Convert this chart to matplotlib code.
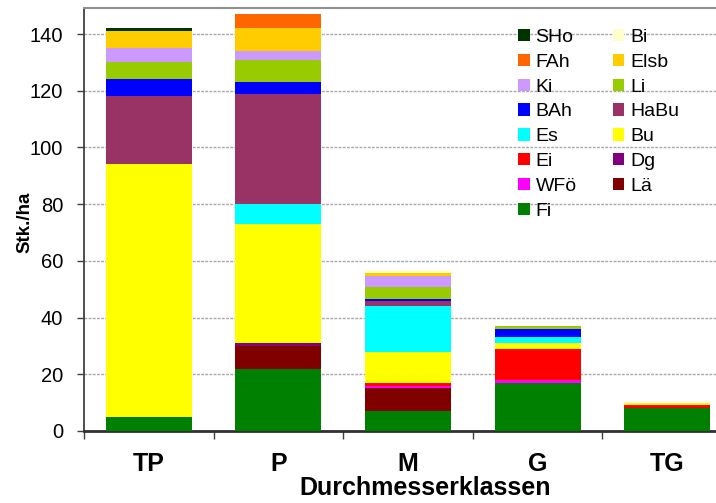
import numpy as np
import matplotlib.pyplot as plt
from matplotlib.patches import Patch

plt.rcParams['font.family'] = ['Liberation Sans', 'DejaVu Sans']

# Durchmesserklassen
klassen = ["TP", "P", "M", "G", "TG"]

# Baumarten von unten nach oben gestapelt
arten = ["Fi", "Lä", "WFö", "Dg", "Ei", "Bu", "Es", "HaBu",
         "BAh", "Li", "Ki", "Elsb", "FAh", "Bi", "SHo"]
farben = ["#008000", "#800000", "#FF00FF", "#800080", "#FF0000",
          "#FFFF00", "#00FFFF", "#993366", "#0000FF", "#99CC00",
          "#CC99FF", "#FFCC00", "#FF6600", "#FFFFCC", "#003300"]

# Stk./ha je Art, Reihenfolge wie klassen
Fi   = [5, 22, 7, 17, 8]
La   = [0, 8, 8, 0, 0]
WFo  = [0, 0, 1, 1, 0]
Dg   = [0, 1, 0, 0, 0]
Ei   = [0, 0, 1, 11, 1]
Bu   = [89, 42, 11, 2, 1]
Es   = [0, 7, 16, 2, 0]
HaBu = [24, 39, 2, 0, 0]
BAh  = [6, 4, 0.7, 3, 0]
Li   = [6, 8, 4, 1, 0]
Ki   = [5, 3, 4, 0, 0]
Elsb = [6, 8, 1, 0, 0]
FAh  = [0, 5, 0, 0, 0]
Bi   = [0, 0, 1, 0, 0]
SHo  = [1, 0, 0, 0, 0]

werte = [Fi, La, WFo, Dg, Ei, Bu, Es, HaBu, BAh, Li, Ki, Elsb, FAh, Bi, SHo]

fig = plt.figure(figsize=(7.16, 5.03), dpi=100)
# Zeichenflaeche ragt rechts ueber den Bildrand hinaus (wie im Original)
ax = fig.add_axes([84/716, 72/503, 648/716, 423/503])

x = np.arange(len(klassen))
boden = np.zeros(len(klassen))
for name, farbe, w in zip(arten, farben, werte):
    ax.bar(x, w, width=0.664, bottom=boden, color=farbe, linewidth=0, zorder=3)
    boden += np.array(w, dtype=float)

ax.set_xlim(-0.5, len(klassen) - 0.5)
ax.set_ylim(0, 149.2)
ax.set_yticks(np.arange(0, 141, 20))
ax.tick_params(axis='y', labelsize=14.5, direction='out', length=5, width=1,
               color='#404040', pad=10)
ax.yaxis.grid(True, color='#a8a8a8', linestyle=(0, (2, 1)), linewidth=1, zorder=0)

# Kategorie-Striche zwischen den Klassen
ax.set_xticks(np.arange(-0.5, len(klassen), 1))
ax.set_xticklabels([])
ax.set_xticks(x, minor=True)
ax.set_xticklabels(klassen, minor=True, fontsize=18, fontweight='bold')
ax.tick_params(axis='x', which='major', direction='out', length=6, width=1, color='#404040')
ax.tick_params(axis='x', which='minor', length=0, pad=15)

ax.spines['right'].set_visible(False)
ax.spines['left'].set_color('#404040')
ax.spines['left'].set_linewidth(1.3)
ax.spines['bottom'].set_color('#303030')
ax.spines['bottom'].set_linewidth(2)
ax.spines['top'].set_color('#909090')
ax.spines['top'].set_linewidth(1.5)

fig.text(25/716, 1 - 222/503, "Stk./ha", fontsize=13.5, fontweight='bold',
         rotation=90, ha='center', va='center')
fig.text(425/716, 1 - 488/503, "Durchmesserklassen", fontsize=18, fontweight='bold',
         ha='center', va='center')

# Legende: umgekehrte Reihenfolge, zeilenweise in zwei Spalten
rev = list(zip(arten, farben))[::-1]
order = rev[0::2] + rev[1::2]
handles = [Patch(facecolor=f, edgecolor='none', label=n) for n, f in order]
fig.legend(handles=handles, ncol=2, loc='upper left',
           bbox_to_anchor=(518/716, 1 - 29/503), frameon=False,
           fontsize=14, handlelength=0.6, handleheight=0.6,
           handletextpad=0.3, columnspacing=1.85, labelspacing=0.4,
           borderpad=0, borderaxespad=0)

fig.savefig("out.png", dpi=100)
